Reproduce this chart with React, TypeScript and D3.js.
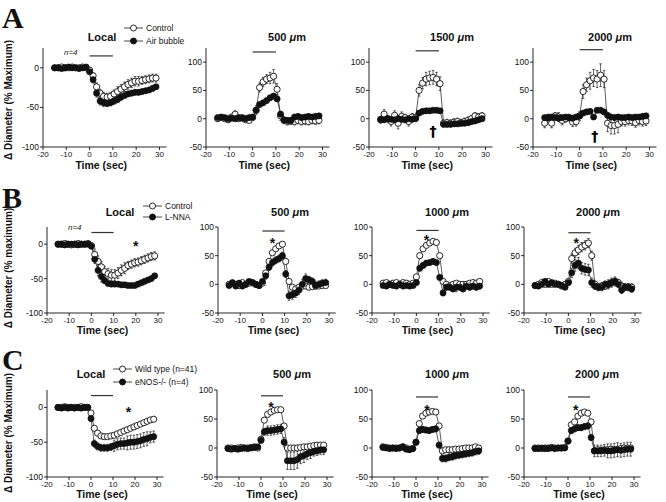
import React from "react";
import * as d3 from "d3";

// ---------- data ----------
const timeSec = [-15, -13.5, -12, -10.5, -9, -7.5, -6, -4.5, -3, -1.5, 0, 1.5, 3, 4.5, 6, 7.5, 9, 10.5, 12, 13.5, 15, 16.5, 18, 19.5, 21, 22.5, 24, 25.5, 27, 28.5];
const xTicks = [-20, -10, 0, 10, 20, 30];
const yTicksLocal = [-100, -50, 0];
const yTicksRemote = [-50, 0, 50, 100];

const rowLetters = ["A", "B", "C"];
const panelTitles = [
  ["Local", "500", "1500", "2000"],
  ["Local", "500", "1000", "2000"],
  ["Local", "500", "1000", "2000"],
];
const legendLabels = [
  ["Control", "Air bubble"],
  ["Control", "L-NNA"],
  ["Wild type (n=41)", "eNOS-/- (n=4)"],
];
const yAxisLabels = ["Δ Diameter (% Maximum)", "Δ Diameter (% maximum)", "Δ Diameter (% Maximum)"];

// Row A — air bubble
const aLocalOpen = [0, 0, 1, 0, 0, 1, 0, 0, 1, 0, -3, -10, -24, -32, -36, -37, -36, -33, -30, -27, -24, -21, -19, -17, -17, -16, -15, -14, -13, -13];
const aLocalOpenErr = [2, 2, 2, 2, 2, 2, 2, 2, 2, 2, 3, 4, 5, 5, 5, 5, 5, 5, 6, 6, 6, 6, 6, 6, 6, 5, 5, 5, 5, 5];
const aLocalFilled = [0, 0, -1, 0, 1, 0, 0, -1, 0, 1, -5, -15, -32, -42, -44, -45, -44, -42, -40, -37, -35, -33, -32, -31, -31, -30, -29, -28, -26, -24];
const aLocalFilledErr = [1, 1, 1, 1, 1, 1, 1, 1, 1, 1, 2, 4, 5, 5, 5, 4, 4, 4, 4, 4, 3, 3, 3, 3, 3, 3, 3, 3, 3, 3];
const a500Open = [0, 2, 0, -2, 3, 8, 0, 2, -2, -3, 2, 15, 55, 65, 70, 72, 75, 52, 5, -3, -5, -4, -5, -3, -5, -4, -5, -3, -4, -3];
const a500OpenErr = [4, 4, 3, 3, 3, 6, 3, 3, 3, 3, 4, 8, 8, 8, 8, 10, 12, 10, 8, 6, 6, 6, 6, 6, 6, 6, 6, 6, 6, 6];
const a500Filled = [2, 3, 2, 0, 1, 0, 2, 1, 0, 2, 3, 15, 25, 28, 32, 37, 40, 35, 8, -2, -3, -3, 3, 4, 2, 3, 4, 3, 4, 5];
const a500FilledErr = [3, 3, 3, 3, 3, 3, 3, 3, 3, 3, 3, 4, 4, 4, 4, 4, 4, 4, 4, 4, 4, 4, 4, 4, 4, 4, 4, 4, 4, 4];
const a1500Open = [-2, 8, 0, -5, 6, -8, 4, 2, -5, 3, 2, 50, 63, 70, 72, 73, 70, 62, -8, -7, -8, -6, -5, -7, -5, -3, 0, 5, 3, 5];
const a1500OpenErr = [6, 8, 6, 8, 8, 10, 8, 6, 8, 6, 6, 10, 10, 12, 12, 12, 12, 12, 6, 6, 6, 6, 6, 6, 6, 6, 6, 6, 6, 6];
const a1500Filled = [-1, -2, 0, -1, -2, 0, -1, -2, 0, -1, 0, 10, 13, 14, 14, 15, 15, 14, -10, -10, -10, -9, -9, -8, -8, -7, -5, -4, -2, 0];
const a1500FilledErr = [3, 3, 3, 3, 3, 3, 3, 3, 3, 3, 3, 4, 4, 4, 4, 4, 4, 4, 4, 4, 4, 4, 4, 4, 4, 4, 4, 4, 4, 4];
const a2000Open = [-8, 2, -8, 5, 3, -3, 0, 2, -6, -5, 5, 48, 60, 67, 72, 70, 77, 70, -8, -12, -12, -10, -5, -5, -3, -4, -7, -3, -5, -4];
const a2000OpenErr = [8, 6, 8, 6, 8, 8, 6, 6, 8, 8, 8, 12, 12, 15, 15, 15, 20, 15, 15, 15, 15, 15, 8, 8, 8, 8, 8, 8, 8, 8];
const a2000Filled = [2, 2, 3, 2, 1, 2, 3, 2, 1, 3, 5, 10, 12, 13, 3, 15, 15, 12, 6, 3, 2, 3, 2, 2, 3, 2, 3, 3, 4, 5];
const a2000FilledErr = [3, 3, 3, 3, 3, 3, 3, 3, 3, 3, 3, 4, 4, 4, 4, 4, 4, 4, 4, 4, 4, 4, 4, 4, 4, 4, 4, 4, 4, 4];

// Row B — L-NNA
const bLocalOpen = [0, 0, 1, 0, -1, 0, 1, 0, 0, 1, -2, -15, -25, -33, -40, -43, -45, -45, -42, -38, -35, -31, -29, -27, -26, -24, -22, -20, -18, -17];
const bLocalOpenErr = [1, 1, 1, 1, 1, 1, 1, 1, 1, 1, 2, 8, 8, 8, 8, 8, 8, 8, 8, 8, 8, 6, 6, 6, 6, 6, 6, 6, 6, 6];
const bLocalFilled = [0, 0, -1, 0, 0, 0, -1, 0, 0, 0, -3, -22, -38, -47, -53, -57, -58, -58, -58, -59, -59, -60, -60, -60, -58, -56, -54, -52, -50, -46];
const bLocalFilledErr = [2, 2, 2, 2, 2, 2, 2, 2, 2, 2, 2, 6, 8, 8, 4, 3, 3, 3, 3, 3, 3, 3, 3, 3, 3, 3, 3, 3, 3, 3];
const b500Open = [0, 2, 0, -2, 3, 0, 2, 3, 0, -2, 2, 20, 40, 55, 62, 67, 70, 40, 5, -5, -8, -5, -3, -3, -5, -4, -3, -3, -2, -2];
const b500OpenErr = [3, 3, 3, 3, 3, 3, 3, 3, 3, 3, 3, 4, 4, 4, 4, 4, 4, 4, 4, 4, 4, 4, 4, 4, 4, 4, 4, 4, 4, 4];
const b500Filled = [-2, 3, -3, 2, -3, 0, 5, 3, 0, -2, 5, 15, 30, 38, 42, 45, 50, 18, -20, -18, -15, -10, 0, 10, 8, 5, -2, 0, 2, 3];
const b500FilledErr = [3, 3, 3, 3, 3, 3, 3, 3, 3, 3, 3, 6, 6, 6, 6, 6, 6, 6, 8, 8, 8, 8, 8, 8, 6, 6, 6, 6, 6, 6];
const b1000Open = [2, 3, 0, 2, 3, 0, 3, 2, 0, 2, 13, 50, 62, 68, 72, 75, 73, 50, 5, 0, -3, 0, 2, 0, 0, 0, 2, 3, 2, 5];
const b1000OpenErr = [3, 3, 3, 3, 3, 3, 3, 3, 3, 3, 3, 4, 4, 4, 4, 4, 4, 4, 4, 4, 4, 4, 4, 4, 4, 4, 4, 4, 4, 4];
const b1000Filled = [-2, -3, 0, -2, -3, 0, -3, -2, -3, -2, 3, 28, 33, 37, 38, 40, 38, 12, -15, -5, -5, -8, -5, -5, -8, -3, -5, -3, -5, -3];
const b1000FilledErr = [3, 3, 3, 3, 3, 3, 3, 3, 3, 3, 3, 4, 4, 4, 4, 4, 4, 4, 5, 5, 5, 5, 8, 5, 5, 5, 5, 5, 5, 5];
const b2000Open = [-2, 0, 3, 0, 5, 0, 2, 0, -3, 0, 5, 45, 55, 60, 65, 68, 72, 50, 0, -5, -3, -3, 0, 3, 5, 3, -3, -5, -5, -5];
const b2000OpenErr = [4, 4, 4, 4, 4, 4, 4, 4, 4, 4, 4, 8, 8, 8, 8, 8, 8, 8, 6, 6, 6, 6, 6, 6, 6, 6, 6, 6, 6, 6];
const b2000Filled = [-2, -3, 0, 5, 0, 3, 0, 0, -2, -5, 3, 20, 33, 37, 28, 26, 25, 3, -3, -5, -5, 0, 0, 3, 5, 0, -10, -5, -5, -8];
const b2000FilledErr = [4, 4, 4, 4, 4, 4, 4, 4, 4, 4, 4, 8, 10, 10, 10, 10, 10, 8, 6, 6, 6, 6, 8, 8, 8, 6, 6, 6, 6, 6];

// Row C — eNOS knockout
const cLocalOpen = [0, 0, 1, 0, 0, 0, 0, 1, 0, 0, -8, -30, -37, -41, -42, -42, -41, -40, -38, -36, -34, -32, -30, -28, -26, -24, -22, -20, -18, -17];
const cLocalOpenErr = [1, 1, 1, 1, 1, 1, 1, 1, 1, 1, 2, 3, 3, 3, 3, 3, 3, 3, 3, 3, 3, 3, 3, 3, 3, 3, 3, 3, 3, 3];
const cLocalFilled = [0, -1, 0, -1, 0, -1, 0, -1, 0, 0, -16, -52, -56, -58, -58, -58, -57, -55, -53, -52, -52, -51, -50, -50, -49, -48, -46, -45, -43, -42];
const cLocalFilledErr = [2, 2, 2, 2, 2, 2, 2, 2, 2, 2, 3, 5, 5, 5, 5, 5, 5, 8, 8, 8, 8, 10, 10, 10, 10, 10, 10, 10, 8, 8];
const c500Open = [0, 0, -1, 0, 1, 0, 0, 1, 2, 0, 15, 48, 58, 62, 65, 66, 66, 38, 0, 0, 0, 0, 1, 2, 2, 3, 4, 5, 5, 5];
const c500OpenErr = [2, 2, 2, 2, 2, 2, 2, 2, 2, 2, 2, 3, 3, 3, 3, 3, 3, 3, 3, 3, 3, 3, 3, 3, 3, 3, 3, 3, 3, 3];
const c500Filled = [-1, -2, -1, -2, -1, 0, -1, 0, 1, 2, 13, 28, 30, 30, 31, 32, 33, 10, -22, -22, -22, -20, -15, -13, -10, -8, -6, -5, -3, -3];
const c500FilledErr = [3, 3, 3, 3, 3, 3, 3, 3, 3, 3, 3, 6, 8, 8, 8, 8, 8, 8, 15, 15, 15, 15, 12, 12, 10, 10, 8, 8, 8, 8];
const c1000Open = [2, 1, 0, 0, 0, 0, 2, 0, -2, -1, 10, 42, 55, 60, 62, 63, 62, 38, -5, -3, -3, -3, -2, -2, -1, 0, 0, 0, 2, 0];
const c1000OpenErr = [2, 2, 2, 2, 2, 2, 2, 2, 2, 2, 2, 3, 3, 3, 3, 3, 3, 3, 3, 3, 3, 3, 3, 3, 3, 3, 3, 3, 3, 3];
const c1000Filled = [1, 0, -1, 0, -1, 0, 2, -2, -3, -1, 10, 30, 32, 31, 30, 32, 33, 5, -18, -18, -16, -15, -13, -12, -11, -10, -9, -8, -6, -5];
const c1000FilledErr = [3, 3, 3, 3, 3, 3, 3, 3, 3, 3, 3, 5, 5, 5, 5, 5, 5, 5, 6, 6, 6, 6, 6, 6, 6, 6, 6, 6, 6, 6];
const c2000Open = [0, 0, -1, 0, 0, 1, 0, 0, 0, 1, 12, 40, 45, 55, 60, 62, 60, 45, -5, -3, -4, -3, -3, -2, -3, -2, -1, 0, 0, 0];
const c2000OpenErr = [2, 2, 2, 2, 2, 2, 2, 2, 2, 2, 2, 3, 3, 3, 3, 3, 3, 3, 3, 3, 3, 3, 3, 3, 3, 3, 3, 3, 3, 3];
const c2000Filled = [-1, -1, 0, -1, -1, 0, -1, 0, 0, 0, 12, 30, 33, 35, 35, 37, 38, 18, -5, -5, -5, -4, -5, -5, -4, -3, -4, -3, -2, -2];
const c2000FilledErr = [3, 3, 3, 3, 3, 3, 3, 3, 3, 3, 3, 5, 5, 5, 5, 5, 5, 5, 10, 10, 10, 10, 12, 12, 12, 12, 12, 12, 12, 12];

const openSeries = [
  [aLocalOpen, a500Open, a1500Open, a2000Open],
  [bLocalOpen, b500Open, b1000Open, b2000Open],
  [cLocalOpen, c500Open, c1000Open, c2000Open],
];
const openErrors = [
  [aLocalOpenErr, a500OpenErr, a1500OpenErr, a2000OpenErr],
  [bLocalOpenErr, b500OpenErr, b1000OpenErr, b2000OpenErr],
  [cLocalOpenErr, c500OpenErr, c1000OpenErr, c2000OpenErr],
];
const filledSeries = [
  [aLocalFilled, a500Filled, a1500Filled, a2000Filled],
  [bLocalFilled, b500Filled, b1000Filled, b2000Filled],
  [cLocalFilled, c500Filled, c1000Filled, c2000Filled],
];
const filledErrors = [
  [aLocalFilledErr, a500FilledErr, a1500FilledErr, a2000FilledErr],
  [bLocalFilledErr, b500FilledErr, b1000FilledErr, b2000FilledErr],
  [cLocalFilledErr, c500FilledErr, c1000FilledErr, c2000FilledErr],
];

// stimulus bar (t 0..10) level, per panel
const stimStart = 0;
const stimEnd = 10;
const stimLevels = [
  [15, 118, 120, 122],
  [17, 93, 94, 90],
  [17, 90, 88, 88],
];
// significance markers [row, col, time, value]
const starMarks = [
  [1, 0, 20, 2], [1, 1, 4.5, 77], [1, 2, 4.5, 82], [1, 3, 3.5, 77],
  [2, 0, 17, -2], [2, 1, 4.5, 76], [2, 2, 5, 70], [2, 3, 3.5, 70],
];
const daggerMarks = [
  [0, 2, 7.5, -22], [0, 3, 6.5, -30],
];

// ---------- layout ----------
const rows = [
  { bottom: 147, top: 48, remoteDomain: [-50, 125], x0: [43, 206, 369, 533], ppu: 2.33, titleY: 41, timeY: 169, ylabelY: 100, letterY: 28, legendY: [28, 41], legendX: 124, titleX: [102, 287, 452, 610], nY: 55, nX: 64 },
  { bottom: 313, top: 227, remoteDomain: [-50, 100], x0: [47, 218, 372, 524], ppu: 2.22, titleY: 216, timeY: 334, ylabelY: 268, letterY: 208, legendY: [206, 217], legendX: 143, titleX: [120, 290, 447, 598], nY: 230, nX: 68 },
  { bottom: 477, top: 390, remoteDomain: [-50, 100], x0: [47, 217, 372, 524], ppu: 2.2, titleY: 378, timeY: 498, ylabelY: 433, letterY: 370, legendY: [369, 382], legendX: 113, titleX: [91, 292, 447, 597], nY: 0, nX: 0 },
];

const FONT = "'Liberation Sans', Arial, Helvetica, sans-serif";

function Panel({ r, c }: { r: number; c: number }) {
  const L = rows[r];
  const isLocal = c === 0;
  const x = d3.scaleLinear().domain([-20, 33]).range([L.x0[c], L.x0[c] + 53 * L.ppu]);
  const yDomain = isLocal ? [-100, 25] : L.remoteDomain;
  const y = d3.scaleLinear().domain(yDomain).range([L.bottom, L.top]);
  const yTicks = isLocal ? yTicksLocal : yTicksRemote;
  const line = d3.line<number>().x((_, i) => x(timeSec[i])).y((v) => y(v));
  const open = openSeries[r][c];
  const filled = filledSeries[r][c];
  const oErr = openErrors[r][c];
  const fErr = filledErrors[r][c];
  const rad = 3.1;
  const errBars = (vals: number[], errs: number[], key: string) =>
    vals.map((v, i) => {
      const cx = x(timeSec[i]);
      const y1 = y(v - errs[i]);
      const y2 = y(v + errs[i]);
      return (
        <g key={key + i} stroke="#222" strokeWidth={0.7}>
          <line x1={cx} x2={cx} y1={y1} y2={y2} />
          <line x1={cx - 1.3} x2={cx + 1.3} y1={y1} y2={y1} />
          <line x1={cx - 1.3} x2={cx + 1.3} y1={y2} y2={y2} />
        </g>
      );
    });
  const title = panelTitles[r][c];
  return (
    <g fontFamily={FONT}>
      {/* axes */}
      <line x1={x(-20)} x2={x(33)} y1={L.bottom} y2={L.bottom} stroke="#111" strokeWidth={0.9} />
      <line x1={x(-20)} x2={x(-20)} y1={L.bottom} y2={L.top} stroke="#111" strokeWidth={0.9} />
      {xTicks.map((t) => (
        <g key={"xt" + t}>
          <line x1={x(t)} x2={x(t)} y1={L.bottom} y2={L.bottom + 3} stroke="#111" strokeWidth={0.9} />
          <text x={x(t)} y={L.bottom + 9.5} fontSize={8} textAnchor="middle" fill="#111">{t}</text>
        </g>
      ))}
      {yTicks.map((t) => (
        <g key={"yt" + t}>
          <line x1={x(-20) - 3} x2={x(-20)} y1={y(t)} y2={y(t)} stroke="#111" strokeWidth={0.9} />
          <text x={x(-20) - 4} y={y(t) + 3} fontSize={8.5} textAnchor="end" fill="#111">{t}</text>
        </g>
      ))}
      <text x={x(5)} y={L.timeY} fontSize={10.5} fontWeight="bold" textAnchor="middle" fill="#111">Time (sec)</text>
      {isLocal ? (
        <text x={L.titleX[c]} y={L.titleY} fontSize={11} fontWeight="bold" textAnchor="middle" fill="#111">{title}</text>
      ) : (
        <text x={L.titleX[c]} y={L.titleY} fontSize={11} fontWeight="bold" textAnchor="middle" fill="#111">
          {title + " "}<tspan fontStyle="italic">μ</tspan>m
        </text>
      )}
      {/* stimulus bar */}
      <line x1={x(stimStart)} x2={x(stimEnd)} y1={y(stimLevels[r][c])} y2={y(stimLevels[r][c])} stroke="#333" strokeWidth={1.2} />
      {/* series */}
      {errBars(open, oErr, "oe")}
      {errBars(filled, fErr, "fe")}
      <path d={line(open) || ""} fill="none" stroke="#333" strokeWidth={0.8} />
      <path d={line(filled) || ""} fill="none" stroke="#333" strokeWidth={0.8} />
      {open.map((v, i) => (
        <circle key={"o" + i} cx={x(timeSec[i])} cy={y(v)} r={rad} fill="#fff" stroke="#111" strokeWidth={0.9} />
      ))}
      {filled.map((v, i) => (
        <circle key={"f" + i} cx={x(timeSec[i])} cy={y(v)} r={rad} fill="#111" stroke="#111" strokeWidth={0.6} />
      ))}
      {starMarks.filter((m) => m[0] === r && m[1] === c).map((m, i) => (
        <text key={"s" + i} x={x(m[2])} y={y(m[3]) + 8} fontSize={14} fontWeight="bold" textAnchor="middle" fill="#111">*</text>
      ))}
      {daggerMarks.filter((m) => m[0] === r && m[1] === c).map((m, i) => (
        <text key={"d" + i} x={x(m[2])} y={y(m[3]) + 5} fontSize={14} fontWeight="bold" textAnchor="middle" fill="#000" fontFamily="'DejaVu Sans', sans-serif">†</text>
      ))}
    </g>
  );
}

export default function App() {
  return (
    <svg width={666} height={502} style={{ position: "absolute", left: 0, top: 0, background: "#fff" }}>
      <rect x={0} y={0} width={666} height={502} fill="#fff" />
      {rows.map((L, r) => (
        <g key={"row" + r}>
          <text x={2} y={L.letterY} fontSize={30} fontWeight="bold" fontFamily="'Liberation Serif', 'Times New Roman', serif" fill="#111">{rowLetters[r]}</text>
          <text transform={`translate(12,${L.ylabelY}) rotate(-90)`} fontSize={10} fontWeight="bold" textAnchor="middle" fontFamily={FONT} fill="#111">{yAxisLabels[r]}</text>
          {/* legend */}
          {legendLabels[r].map((lab, k) => (
            <g key={"lg" + k} fontFamily={FONT}>
              <line x1={L.legendX} x2={L.legendX + 19} y1={L.legendY[k]} y2={L.legendY[k]} stroke="#333" strokeWidth={0.9} />
              <circle cx={L.legendX + 9.5} cy={L.legendY[k]} r={3} fill={k === 0 ? "#fff" : "#111"} stroke="#111" strokeWidth={0.9} />
              <text x={L.legendX + 22} y={L.legendY[k] + 3} fontSize={8.5} fill="#111">{lab}</text>
            </g>
          ))}
          {L.nY > 0 && (
            <text x={L.nX} y={L.nY} fontSize={8} fontStyle="italic" fontFamily={FONT} fill="#222">n=4</text>
          )}
          {[0, 1, 2, 3].map((c) => (
            <Panel key={"p" + r + c} r={r} c={c} />
          ))}
        </g>
      ))}
    </svg>
  );
}
